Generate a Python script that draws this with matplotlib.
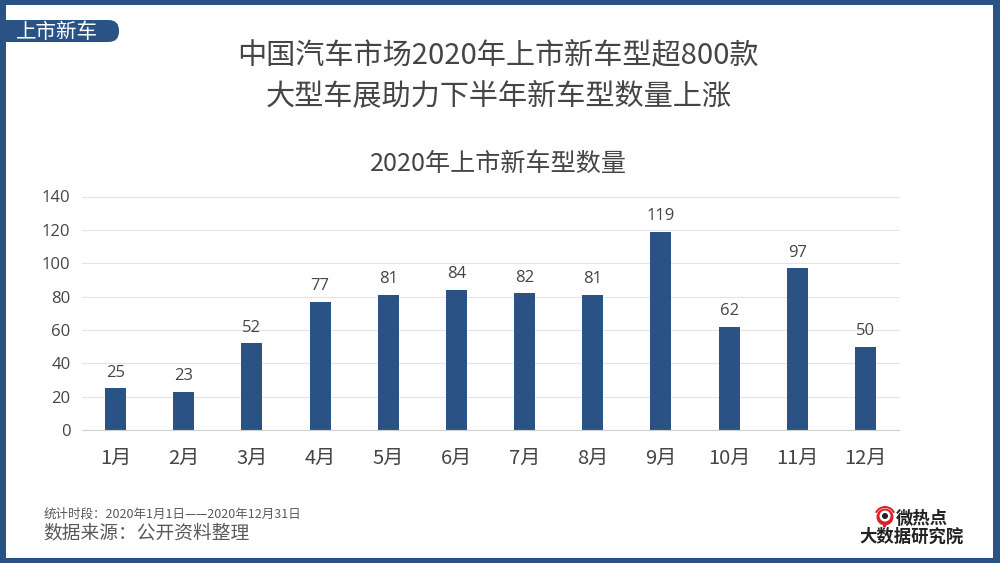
"""Monthly new car model launches, 2020."""

import matplotlib

matplotlib.use("Agg")
import matplotlib.pyplot as plt
from matplotlib.patches import Circle, FancyBboxPatch, Rectangle, Wedge

plt.rcParams["font.family"] = ["Noto Sans CJK SC", "DejaVu Sans"]

months = ["1月", "2月", "3月", "4月", "5月", "6月", "7月", "8月", "9月", "10月", "11月", "12月"]
launches = [25, 23, 52, 77, 81, 84, 82, 81, 119, 62, 97, 50]
y_ticks = [0, 20, 40, 60, 80, 100, 120, 140]

NAVY = "#2b5285"
TEXT = "#454545"
GRID = "#e4e4e4"
WIDTH, HEIGHT = 1000, 563

figure = plt.figure(figsize=(10, 5.63), dpi=100, facecolor="white")

# overlay in pixel coordinates, y pointing down
overlay = figure.add_axes([0, 0, 1, 1], zorder=3)
overlay.set_xlim(0, WIDTH)
overlay.set_ylim(HEIGHT, 0)
overlay.axis("off")
overlay.patch.set_alpha(0)

# chart area
axis = figure.add_axes([81.5 / WIDTH, 1 - 430 / HEIGHT, 818 / WIDTH, 233.5 / HEIGHT])
axis.bar(range(len(months)), launches, width=0.31, color=NAVY, zorder=2)
for position, value in enumerate(launches):
    axis.annotate(str(value), (position, value), xytext=(0, 5.5), textcoords="offset points",
                  ha="center", va="bottom", fontsize=12, color=TEXT, family="Open Sans")
axis.set_xlim(-0.5, len(months) - 0.5)
axis.set_ylim(0, 140)
axis.set_xticks(range(len(months)))
axis.set_xticklabels(months, fontsize=14.5, color=TEXT)
axis.set_yticks(y_ticks)
axis.set_yticklabels([str(tick) for tick in y_ticks], fontsize=12, color=TEXT, family="Open Sans")
axis.tick_params(axis="both", length=0)
axis.tick_params(axis="x", pad=13)
axis.tick_params(axis="y", pad=8)
axis.grid(axis="y", color=GRID, linewidth=0.8, zorder=0)
axis.set_axisbelow(True)
for side in ["top", "right", "left"]:
    axis.spines[side].set_visible(False)
axis.spines["bottom"].set_color("#d0d0d0")

# frame
border = 5
overlay.add_patch(Rectangle((0, 0), WIDTH, border, color=NAVY, lw=0))
overlay.add_patch(Rectangle((0, HEIGHT - border), WIDTH, border, color=NAVY, lw=0))
overlay.add_patch(Rectangle((0, 0), border + 1, HEIGHT, color=NAVY, lw=0))
overlay.add_patch(Rectangle((WIDTH - border - 2, 0), border + 2, HEIGHT, color=NAVY, lw=0))

# section tag
overlay.add_patch(FancyBboxPatch((-20, 20), 139, 22, color=NAVY, lw=0,
                                 boxstyle="round,pad=0,rounding_size=10.5"))
overlay.text(16, 32, "上市新车", color="white", fontsize=14.8, va="center", ha="left")

# titles
overlay.text(498, 55, "中国汽车市场2020年上市新车型超800款", color=TEXT, fontsize=21,
             ha="center", va="center")
overlay.text(499, 96, "大型车展助力下半年新车型数量上涨", color=TEXT, fontsize=21,
             ha="center", va="center")
overlay.text(498.5, 164, "2020年上市新车型数量", color=TEXT, fontsize=18.1, ha="center", va="center")

# footnotes
overlay.text(44, 514.5, "统计时段：2020年1月1日——2020年12月31日", color="#595959", fontsize=9,
             ha="left", va="center")
overlay.text(43.5, 532.5, "数据来源：公开资料整理", color="#595959", fontsize=13.5, ha="left", va="center")

# logo
overlay.add_patch(Circle((885, 517), 8.5, color="#d8232a", lw=0))
overlay.add_patch(Circle((885, 516), 5.5, color="white", lw=0))
overlay.add_patch(Circle((885, 516), 3, color="#222222", lw=0))
overlay.add_patch(Wedge((885, 517), 11, 205, 335, width=2, color="#d8232a", lw=0))
overlay.add_patch(Rectangle((883, 524), 3, 3, color="#d8232a", lw=0))
overlay.text(922, 519, "微热点", color="#222222", fontsize=12.5, fontweight="bold",
             ha="center", va="center")
overlay.text(911, 537, "大数据研究院", color="#222222", fontsize=12.5, fontweight="bold",
             ha="center", va="center")

figure.savefig("out.png", dpi=100)
plt.close(figure)
